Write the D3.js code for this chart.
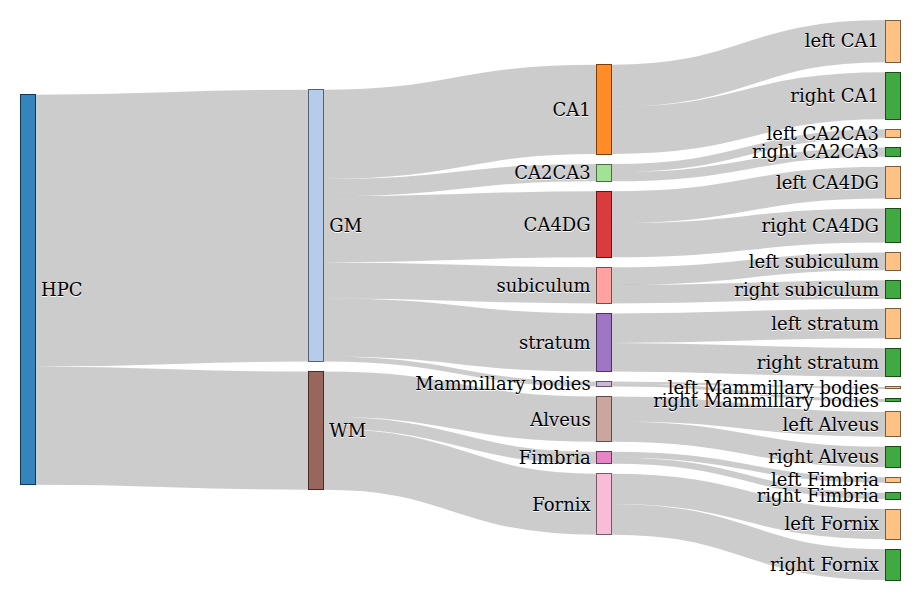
<!DOCTYPE html>
<html>
<head>
<meta charset="utf-8">
<script src="https://cdn.jsdelivr.net/npm/d3@7"></script>
<style>
  body { margin: 0; background: #fff; }
  .node rect { fill-opacity: .9; shape-rendering: crispEdges; }
  .node text { pointer-events: none; text-shadow: 0 1px 0 #fff; font-family: "DejaVu Serif", serif; font-size: 18px; }
  .link { fill: none; stroke: #000; stroke-opacity: .2; }
</style>
</head>
<body>
<svg id="chart" width="916" height="600"></svg>
<script>
// ---------------- data ----------------
const root = "HPC";
const tissues = ["GM", "WM"];
const regions = ["CA1", "CA2CA3", "CA4DG", "subiculum", "stratum", "Mammillary bodies", "Alveus", "Fimbria", "Fornix"];
const regionTissue = ["GM", "GM", "GM", "GM", "GM", "GM", "WM", "WM", "WM"];
const sides = ["left", "right"];
const leftValues  = [42.0, 8.3, 31.7, 17.7, 29.4, 2.0, 24.7, 5.6, 30.0];
const rightValues = [47.0, 9.0, 34.0, 18.3, 28.6, 3.0, 20.4, 6.3, 30.7];
const colorKeys = ["HPC", "GM", "CA1", "left", "right", "CA2CA3", "CA4DG", "subiculum", "stratum", "Mammillary", "WM", "Alveus", "Fimbria", "Fornix"];
const colorValues = ["#1f77b4", "#aec7e8", "#ff7f0e", "#ffbb78", "#2ca02c", "#98df8a", "#d62728", "#ff9896", "#9467bd", "#c5b0d5", "#8c564b", "#c49c94", "#e377c2", "#f7b6d2"];

// ---------------- build graph ----------------
const nodeNames = [root, ...tissues, ...regions];
regions.forEach(r => sides.forEach(s => nodeNames.push(s + " " + r)));
const leafLinks = [];
regions.forEach((r, i) => {
  leafLinks.push([r, sides[0] + " " + r, leftValues[i]]);
  leafLinks.push([r, sides[1] + " " + r, rightValues[i]]);
});
const regionLinks = regions.map((r, i) => [regionTissue[i], r, leftValues[i] + rightValues[i]]);
const tissueLinks = tissues.map(t => [root, t, d3.sum(regionLinks.filter(l => l[0] === t), l => l[2])]);
const allLinks = [...tissueLinks, ...regionLinks, ...leafLinks];

// ---------------- layout (d3-sankey style, input node order kept) ----------------
const x0 = 20, y0 = 20, x1 = 900, y1 = 580;
const nodeWidth = 15, nodePaddingWanted = 10, iterations = 1;

const nodes = nodeNames.map((name, index) => ({name, index, sourceLinks: [], targetLinks: []}));
const byName = new Map(nodes.map(n => [n.name, n]));
const links = allLinks.map(([s, t, v], index) => ({source: byName.get(s), target: byName.get(t), value: v, index}));
links.forEach(l => { l.source.sourceLinks.push(l); l.target.targetLinks.push(l); });
nodes.forEach(n => n.value = Math.max(d3.sum(n.sourceLinks, l => l.value), d3.sum(n.targetLinks, l => l.value)));

{
  let current = new Set(nodes), next = new Set(), x = 0;
  while (current.size) {
    for (const n of current) { n.depth = x; for (const {target} of n.sourceLinks) next.add(target); }
    ++x; current = next; next = new Set();
  }
}
const nLayers = d3.max(nodes, n => n.depth) + 1;
nodes.forEach(n => n.layer = n.sourceLinks.length ? n.depth : nLayers - 1);
const xScale = d3.scaleLinear().domain([0, nLayers - 1]).range([x0, x1 - nodeWidth]);
nodes.forEach(n => { n.x0 = xScale(n.layer); n.x1 = n.x0 + nodeWidth; });
const columns = d3.range(nLayers).map(i => nodes.filter(n => n.layer === i));

const py = Math.min(nodePaddingWanted, (y1 - y0) / (d3.max(columns, c => c.length) - 1));
const ky = d3.min(columns, c => (y1 - y0 - (c.length - 1) * py) / d3.sum(c, n => n.value));
const yScale = d3.scaleLinear().domain([0, 1]).range([0, ky]);

const ascBreadth = (a, b) => a.y0 - b.y0;
const ascTarget = (a, b) => ascBreadth(a.target, b.target) || a.index - b.index;
const ascSource = (a, b) => ascBreadth(a.source, b.source) || a.index - b.index;
function reorderLinks(col) {
  for (const {sourceLinks, targetLinks} of col) { sourceLinks.sort(ascTarget); targetLinks.sort(ascSource); }
}
function reorderNodeLinks({sourceLinks, targetLinks}) {
  for (const {source: {sourceLinks: sl}} of targetLinks) sl.sort(ascTarget);
  for (const {target: {targetLinks: tl}} of sourceLinks) tl.sort(ascSource);
}
for (const col of columns) {
  let y = y0;
  for (const n of col) {
    n.y0 = y; n.y1 = y + yScale(n.value); y = n.y1 + py;
    for (const l of n.sourceLinks) l.width = yScale(l.value);
  }
  const extra = (y1 - y + py) / (col.length + 1);
  col.forEach((n, i) => { n.y0 += extra * (i + 1); n.y1 += extra * (i + 1); });
  reorderLinks(col);
}
function targetTop(source, target) {
  let y = source.y0 - (source.sourceLinks.length - 1) * py / 2;
  for (const {target: node, width} of source.sourceLinks) { if (node === target) break; y += width + py; }
  for (const {source: node, width} of target.targetLinks) { if (node === source) break; y -= width; }
  return y;
}
function sourceTop(source, target) {
  let y = target.y0 - (target.targetLinks.length - 1) * py / 2;
  for (const {source: node, width} of target.targetLinks) { if (node === source) break; y += width + py; }
  for (const {target: node, width} of source.sourceLinks) { if (node === target) break; y -= width; }
  return y;
}
function collTopToBottom(col, y, i, alpha) {
  for (; i < col.length; ++i) {
    const n = col[i]; const dy = (y - n.y0) * alpha;
    if (dy > 1e-6) { n.y0 += dy; n.y1 += dy; }
    y = n.y1 + py;
  }
}
function collBottomToTop(col, y, i, alpha) {
  for (; i >= 0; --i) {
    const n = col[i]; const dy = (n.y1 - y) * alpha;
    if (dy > 1e-6) { n.y0 -= dy; n.y1 -= dy; }
    y = n.y0 - py;
  }
}
function resolveCollisions(col, alpha) {
  const i = col.length >> 1, subject = col[i];
  collBottomToTop(col, subject.y0 - py, i - 1, alpha);
  collTopToBottom(col, subject.y1 + py, i + 1, alpha);
  collBottomToTop(col, y1, col.length - 1, alpha);
  collTopToBottom(col, y0, 0, alpha);
}
function relaxLeftToRight(alpha, beta) {
  for (let i = 1; i < columns.length; ++i) {
    const col = columns[i];
    for (const target of col) {
      let y = 0, w = 0;
      for (const {source, value} of target.targetLinks) {
        const v = value * (target.layer - source.layer);
        y += targetTop(source, target) * v; w += v;
      }
      if (!(w > 0)) continue;
      const dy = (y / w - target.y0) * alpha;
      target.y0 += dy; target.y1 += dy;
      reorderNodeLinks(target);
    }
    resolveCollisions(col, beta);
  }
}
function relaxRightToLeft(alpha, beta) {
  for (let i = columns.length - 2; i >= 0; --i) {
    const col = columns[i];
    for (const source of col) {
      let y = 0, w = 0;
      for (const {target, value} of source.sourceLinks) {
        const v = value * (target.layer - source.layer);
        y += sourceTop(source, target) * v; w += v;
      }
      if (!(w > 0)) continue;
      const dy = (y / w - source.y0) * alpha;
      source.y0 += dy; source.y1 += dy;
      reorderNodeLinks(source);
    }
    resolveCollisions(col, beta);
  }
}
for (let i = 0; i < iterations; ++i) {
  const alpha = Math.pow(0.99, i);
  const beta = Math.max(1 - alpha, (i + 1) / iterations);
  relaxRightToLeft(alpha, beta);
  relaxLeftToRight(alpha, beta);
}
for (const n of nodes) {
  let a = n.y0, b = n.y0;
  for (const l of n.sourceLinks) { l.y0 = a + l.width / 2; a += l.width; }
  for (const l of n.targetLinks) { l.y1 = b + l.width / 2; b += l.width; }
}

// ---------------- render ----------------
const color = d3.scaleOrdinal().domain(colorKeys).range(colorValues);
const svg = d3.select("#chart");
const linkPath = d3.linkHorizontal();

svg.append("g").selectAll("path").data(links).join("path")
  .attr("class", "link")
  .attr("d", l => linkPath({source: [l.source.x1, l.y0], target: [l.target.x0, l.y1]}))
  .style("stroke-width", l => Math.max(1, l.width));

const node = svg.append("g").selectAll("g").data(nodes).join("g")
  .attr("class", "node")
  .attr("transform", n => `translate(${n.x0},${n.y0})`);
node.append("rect")
  .attr("height", n => n.y1 - n.y0)
  .attr("width", n => n.x1 - n.x0)
  .style("fill", n => n.color = color(n.name.replace(/ .*/, "")))
  .style("stroke", n => d3.rgb(n.color).darker(2));
node.append("text")
  .attr("x", n => n.x0 < (x0 + x1) / 2 ? 6 + nodeWidth : -6)
  .attr("y", n => (n.y1 - n.y0) / 2)
  .attr("dy", ".35em")
  .attr("text-anchor", n => n.x0 < (x0 + x1) / 2 ? "start" : "end")
  .text(n => n.name);
</script>
</body>
</html>
